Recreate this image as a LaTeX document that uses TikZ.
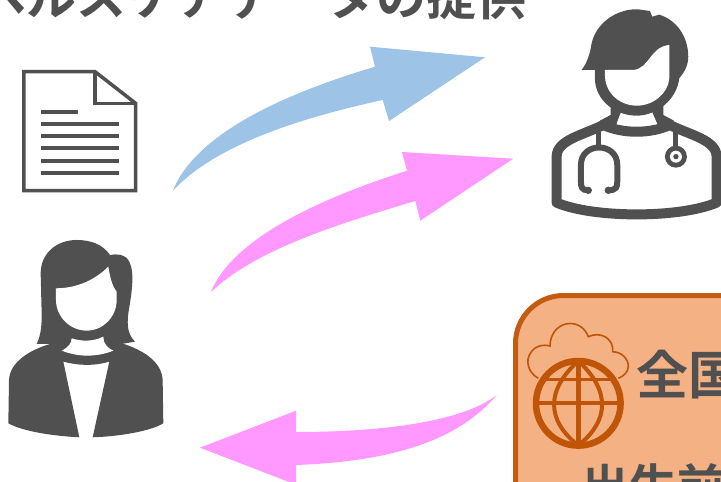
\documentclass[tikz,border=0pt]{standalone}
\usepackage{fontspec}
\newfontfamily\cjk{Noto Sans CJK JP}[BoldFont={Noto Sans CJK JP Bold}]
\definecolor{ink}{HTML}{505050}
\definecolor{blu}{HTML}{9DC3E6}
\definecolor{pnk}{HTML}{FF99FF}
\definecolor{boxfill}{HTML}{F4B183}
\definecolor{boxline}{HTML}{C55A11}
\definecolor{globe}{HTML}{C05508}
\tikzset{
  label text/.style={text=ink,font=\cjk\bfseries\fontsize{#1}{#1}\selectfont,inner sep=0pt,anchor=base west},
  ic/.style={x=0.3333pt,y=-0.3333pt},
  docline/.style={draw=ink,line width=3.8pt},
}
\begin{document}
\begin{tikzpicture}[x=1pt,y=-1pt]
\useasboundingbox (0,0) rectangle (721,482);
\clip (0,0) rectangle (721,482);
\fill[white] (0,0) rectangle (721,482);

% title
\node[label text=50] (title) at (-24,15) {ヘルスケアデータの提供};

% arrows
\fill[blu] (172.7,191) .. controls (195,135) and (280,95) .. (375,66.7) -- (370,46.7) -- (485,57.3) -- (389,121) -- (382.7,100)
  .. controls (300,118) and (215,145) .. (172.7,191) -- cycle;
\fill[pnk] (210.7,292.3) .. controls (232,240) and (315,200) .. (407,170.7) -- (402,152) -- (513.3,158.7) -- (420.3,220.7) -- (415.3,201)
  .. controls (335,225) and (255,250) .. (210.7,292.3) -- cycle;
\fill[pnk] (496.7,395) .. controls (465,420) and (390,432) .. (296,432) -- (296,410.7) -- (200,447.7) -- (296,484.7) -- (296,465)
  .. controls (380,462) and (455,445) .. (496.7,395) -- cycle;

% document
\begin{scope}[ic,shift={(0,180)}]
  \draw[draw=ink,line width=3.5pt,fill=white,line join=miter] (72,35) -- (285,35) -- (407,130) -- (407,392) -- (72,392) -- cycle;
  \draw[draw=ink,line width=3.5pt] (285,35) -- (285,130) -- (407,130);
  \draw[docline] (123,156) -- (233,156);
  \foreach \yy in {192,228,264,302,339} \draw[docline] (123,\yy) -- (357,\yy);
\end{scope}

% doctor
\begin{scope}[ic,shift={(1620,0)}]
  \draw[draw=ink,line width=10pt,line join=round,fill=white] (50,608) -- (50,470) .. controls (50,420) and (130,405) .. (190,375)
    .. controls (250,402) and (330,402) .. (390,375) .. controls (450,405) and (530,420) .. (530,470) -- (530,608)
    .. controls (420,655) and (160,655) .. (50,608) -- cycle;
  \fill[ink] (212,300) -- (212,345) -- (180,362) -- (228,378) -- (242,340) -- (242,300) -- cycle;
  \fill[ink] (370,300) -- (370,345) -- (402,362) -- (352,378) -- (338,340) -- (338,300) -- cycle;
  \fill[ink] (125,210) .. controls (140,190) and (150,165) .. (155,130) .. controls (170,65) and (235,25) .. (295,28)
    -- (330,33) -- (337,50) -- (358,44) .. controls (410,60) and (445,110) .. (445,170)
    .. controls (445,200) and (430,220) .. (418,235) .. controls (410,300) and (350,347) .. (290,347)
    .. controls (225,347) and (165,300) .. (165,235) -- (165,210) -- cycle;
  \fill[white] (195,210) -- (280,210) .. controls (330,205) and (330,140) .. (388,135) -- (388,235)
    .. controls (385,280) and (340,317) .. (291,317) .. controls (240,317) and (195,280) .. (195,225) -- cycle;
  \fill[white] (241,342) .. controls (270,352) and (310,352) .. (339,342) -- (352,372) .. controls (310,380) and (270,380) .. (230,372) -- cycle;
  \draw[draw=ink,line width=5pt] (175,395) -- (175,445);
  \draw[draw=ink,line width=6pt] (145,571) .. controls (125,571) and (123,560) .. (123,545) -- (123,495)
    .. controls (123,425) and (232,425) .. (232,495) -- (232,545) .. controls (232,560) and (230,571) .. (205,571);
  \fill[ink] (145,571) circle[radius=11];
  \fill[ink] (205,571) circle[radius=11];
  \draw[draw=ink,line width=5pt] (408,395) -- (408,445);
  \fill[ink] (408,470) circle[radius=33];
  \fill[white] (408,470) circle[radius=18];
  \fill[ink] (408,470) circle[radius=8];
\end{scope}

% woman
\begin{scope}[ic,shift={(0,690)}]
  \fill[ink] (150,342) .. controls (90,360) and (30,395) .. (27,450) -- (25,580) .. controls (70,605) and (160,618) .. (238,622)
    -- (190,395) .. controls (240,408) and (285,408) .. (328,395) -- (278,622)
    .. controls (350,620) and (450,605) .. (490,580) -- (488,450) .. controls (485,395) and (430,360) .. (365,340) -- cycle;
  \fill[ink] (110,342) .. controls (125,310) and (125,280) .. (125,250) -- (122,130) .. controls (122,70) and (170,30) .. (230,30)
    .. controls (275,30) and (310,45) .. (330,75) .. controls (350,72) and (375,70) .. (388,95)
    .. controls (405,130) and (395,190) .. (385,250) .. controls (380,290) and (385,315) .. (405,335)
    -- (365,342) -- (310,355) -- (210,355) -- (150,342) -- cycle;
  \fill[white] (215,325) .. controls (245,335) and (280,335) .. (310,320) .. controls (310,340) and (320,352) .. (340,362)
    .. controls (290,382) and (235,382) .. (185,362) .. controls (205,352) and (215,340) .. (215,325) -- cycle;
  \fill[white] (168,175) .. controls (230,175) and (285,150) .. (325,110) .. controls (330,140) and (335,165) .. (350,185)
    -- (350,210) .. controls (350,260) and (310,302) .. (260,302) .. controls (210,302) and (168,260) .. (168,210) -- cycle;
\end{scope}

% box
\draw[draw=boxline,line width=5pt,fill=boxfill] (515.5,520) -- (515.5,343.5) .. controls (515.5,317) and (537,295.5) .. (563.5,295.5) -- (760,295.5) -- (760,520) -- cycle;
\node[label text=52] (zen) at (636,394) {全国};
\node[label text=48] (shu) at (581,504) {出生前};

% cloud
\draw[draw=globe,line width=1.6pt] (538.3,378.3) .. controls (527,372) and (526,360) .. (530,354) .. controls (534,346) and (543,344) .. (550,346)
  .. controls (550,332) and (560,323.5) .. (570,323.5) .. controls (578,323.5) and (585,328) .. (588.3,336.7)
  .. controls (600,331) and (614,338) .. (612.7,351.7) .. controls (622,352) and (628.5,359) .. (628.3,366.7)
  .. controls (628,372) and (624,376) .. (618.3,378.3);

% globe
\draw[draw=globe,line width=6.5pt] (578.3,403.3) circle[radius=42.3];
\draw[draw=globe,line width=4pt] (578.3,361) .. controls (546,390) and (546,420) .. (578.3,445.5) .. controls (610,420) and (610,390) .. (578.3,361);
\draw[draw=globe,line width=4.5pt] (578.3,361) -- (578.3,445.5);
\draw[draw=globe,line width=4.5pt] (536,403) -- (620.5,403);
\draw[draw=globe,line width=2.7pt] (541,379.5) -- (615.5,379.5);
\end{tikzpicture}
\end{document}
